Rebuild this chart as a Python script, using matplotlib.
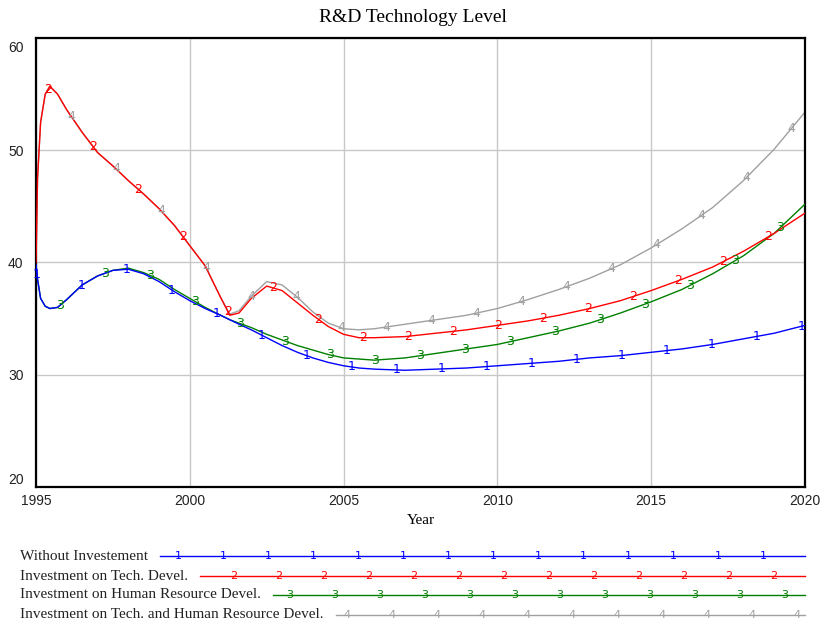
import numpy as np
import matplotlib
matplotlib.use("Agg")
import matplotlib.pyplot as plt
from matplotlib.lines import Line2D
import matplotlib.transforms as mtransforms

# time axis (years) and the four runs
years = [1995.0, 1995.05, 1995.15, 1995.3, 1995.45, 1995.7, 1996.0, 1996.5,
         1997.0, 1997.5, 1998.0, 1998.5, 1999.0, 1999.5, 2000.0, 2000.5,
         2001.0, 2001.3, 2001.6, 2002.0, 2002.5, 2003.0, 2003.5, 2004.0,
         2004.5, 2005.0, 2005.5, 2006.0, 2007.0, 2008.0, 2009.0, 2010.0,
         2011.0, 2012.0, 2013.0, 2014.0, 2015.0, 2016.0, 2017.0, 2018.0,
         2019.0, 2020.0]

without_inv = [39.8, 38.5, 36.8, 36.1, 35.9, 36.0, 36.7, 38.0,
               38.8, 39.3, 39.4, 39.0, 38.3, 37.4, 36.6, 35.9,
               35.3, 34.9, 34.5, 34.0, 33.3, 32.6, 32.0, 31.5,
               31.1, 30.8, 30.6, 30.5, 30.4, 30.5, 30.6, 30.8,
               31.0, 31.2, 31.5, 31.7, 32.0, 32.3, 32.7, 33.2,
               33.7, 34.4]

tech_devel = [40.0, 47.5, 52.5, 55.0, 55.7, 55.0, 53.6, 51.6,
              49.8, 48.6, 47.3, 46.1, 44.8, 43.3, 41.5, 39.7,
              36.9, 35.3, 35.5, 36.8, 37.9, 37.5, 36.4, 35.3,
              34.3, 33.6, 33.3, 33.3, 33.4, 33.7, 34.0, 34.4,
              34.8, 35.3, 35.9, 36.6, 37.5, 38.5, 39.6, 41.0,
              42.6, 44.4]

hr_devel = [39.8, 38.5, 36.8, 36.1, 35.9, 36.0, 36.7, 38.0,
            38.8, 39.3, 39.5, 39.1, 38.5, 37.6, 36.8, 36.0,
            35.3, 34.9, 34.6, 34.2, 33.6, 33.1, 32.6, 32.2,
            31.8, 31.5, 31.4, 31.3, 31.5, 31.9, 32.3, 32.7,
            33.3, 33.9, 34.6, 35.5, 36.5, 37.6, 39.0, 40.6,
            42.6, 45.2]

tech_hr_devel = [40.0, 47.5, 52.5, 55.0, 55.7, 55.0, 53.6, 51.6,
                 49.8, 48.6, 47.3, 46.1, 44.8, 43.3, 41.5, 39.7,
                 36.9, 35.4, 35.7, 37.0, 38.3, 38.0, 36.9, 35.6,
                 34.6, 34.1, 34.0, 34.1, 34.5, 34.9, 35.3, 35.9,
                 36.7, 37.6, 38.6, 39.8, 41.3, 43.0, 44.9, 47.3,
                 50.1, 53.4]

names = ['Without Investement', 'Investment on Tech. Devel.',
         'Investment on Human Resource Devel.',
         'Investment on Tech. and Human Resource Devel.']
series = [without_inv, tech_devel, hr_devel, tech_hr_devel]
colors = ['#0000ff', '#ff0000', '#008000', '#a0a0a0']
digits = ['1', '2', '3', '4']

W, H = 825, 625
ax_l, ax_r, ax_t, ax_b = 36, 805, 38, 487

fig = plt.figure(figsize=(W / 100, H / 100), dpi=100)
ax = fig.add_axes([ax_l / W, 1 - ax_b / H, (ax_r - ax_l) / W, (ax_b - ax_t) / H])

x = np.array(years)
px_per_year = (ax_r - ax_l) / 25.0
mark_off = [1, 12, 24, 35]   # px from left edge where each run's digits start
mark_step = 45

# draw 4 first so 1 ends on top
for i in [3, 2, 1, 0]:
    y = np.array(series[i])
    ax.plot(x, y, color=colors[i], lw=1.0, zorder=2 + (3 - i))
    mx = 1995 + (mark_off[i] + mark_step * np.arange(20)) / px_per_year
    mx = mx[mx <= 2020]
    my = np.interp(mx, x, y)
    for a, b in zip(mx, my):
        ax.text(a, b, digits[i], color=colors[i], fontsize=9,
                family='DejaVu Sans', ha='center', va='center', zorder=10)

ax.set_xlim(1995, 2020)
ax.set_ylim(20, 60)
ax.set_xticks([1995, 2000, 2005, 2010, 2015, 2020])
ax.set_yticks([20, 30, 40, 50, 60])
ax.grid(True, color='#c8c8c8', lw=1.0, zorder=0)
ax.tick_params(length=0, labelsize=10)
ax.tick_params(axis='y', pad=9)
ax.tick_params(axis='x', pad=5)
for lab in ax.get_xticklabels() + ax.get_yticklabels():
    lab.set_family('Liberation Sans')
    lab.set_color('#222222')
ylabs = ax.get_yticklabels()
ylabs[0].set_va('bottom')
ylabs[-1].set_va('top')
ylabs[-1].set_transform(ylabs[-1].get_transform() +
                        mtransforms.ScaledTranslation(0, -3 / 100, fig.dpi_scale_trans))
for s in ax.spines.values():
    s.set_linewidth(1.6)
    s.set_color('black')

fig.text(0.5, 1 - 17 / H, 'R&D Technology Level', family='Liberation Serif',
         fontsize=14, ha='center', va='center')
fig.text((ax_l + ax_r) / 2 / W, 1 - 521 / H, 'Year', family='Liberation Serif',
         fontsize=11, ha='center', va='center')

# legend rows under the plot
row_y = [556, 576, 595, 615]
leg_off = [43, 54, 65, 77]
texts = []
for i in range(4):
    t = fig.text(20 / W, 1 - row_y[i] / H, names[i], family='Liberation Serif',
                 fontsize=11, ha='left', va='center', color='#222222')
    texts.append(t)
fig.canvas.draw()
rend = fig.canvas.get_renderer()
for i in range(4):
    bb = texts[i].get_window_extent(rend)
    x0 = bb.x1 + 12
    yy = 1 - row_y[i] / H
    fig.add_artist(Line2D([x0 / W, 805 / W], [yy, yy], transform=fig.transFigure,
                          color=colors[i], lw=1.0))
    for k in range(20):
        p = leg_off[i] + mark_step * k
        if x0 + 5 < p < 805:
            fig.text(p / W, yy, digits[i], color=colors[i], fontsize=8,
                     family='DejaVu Sans', ha='center', va='center')

fig.savefig('out.png', dpi=100)
